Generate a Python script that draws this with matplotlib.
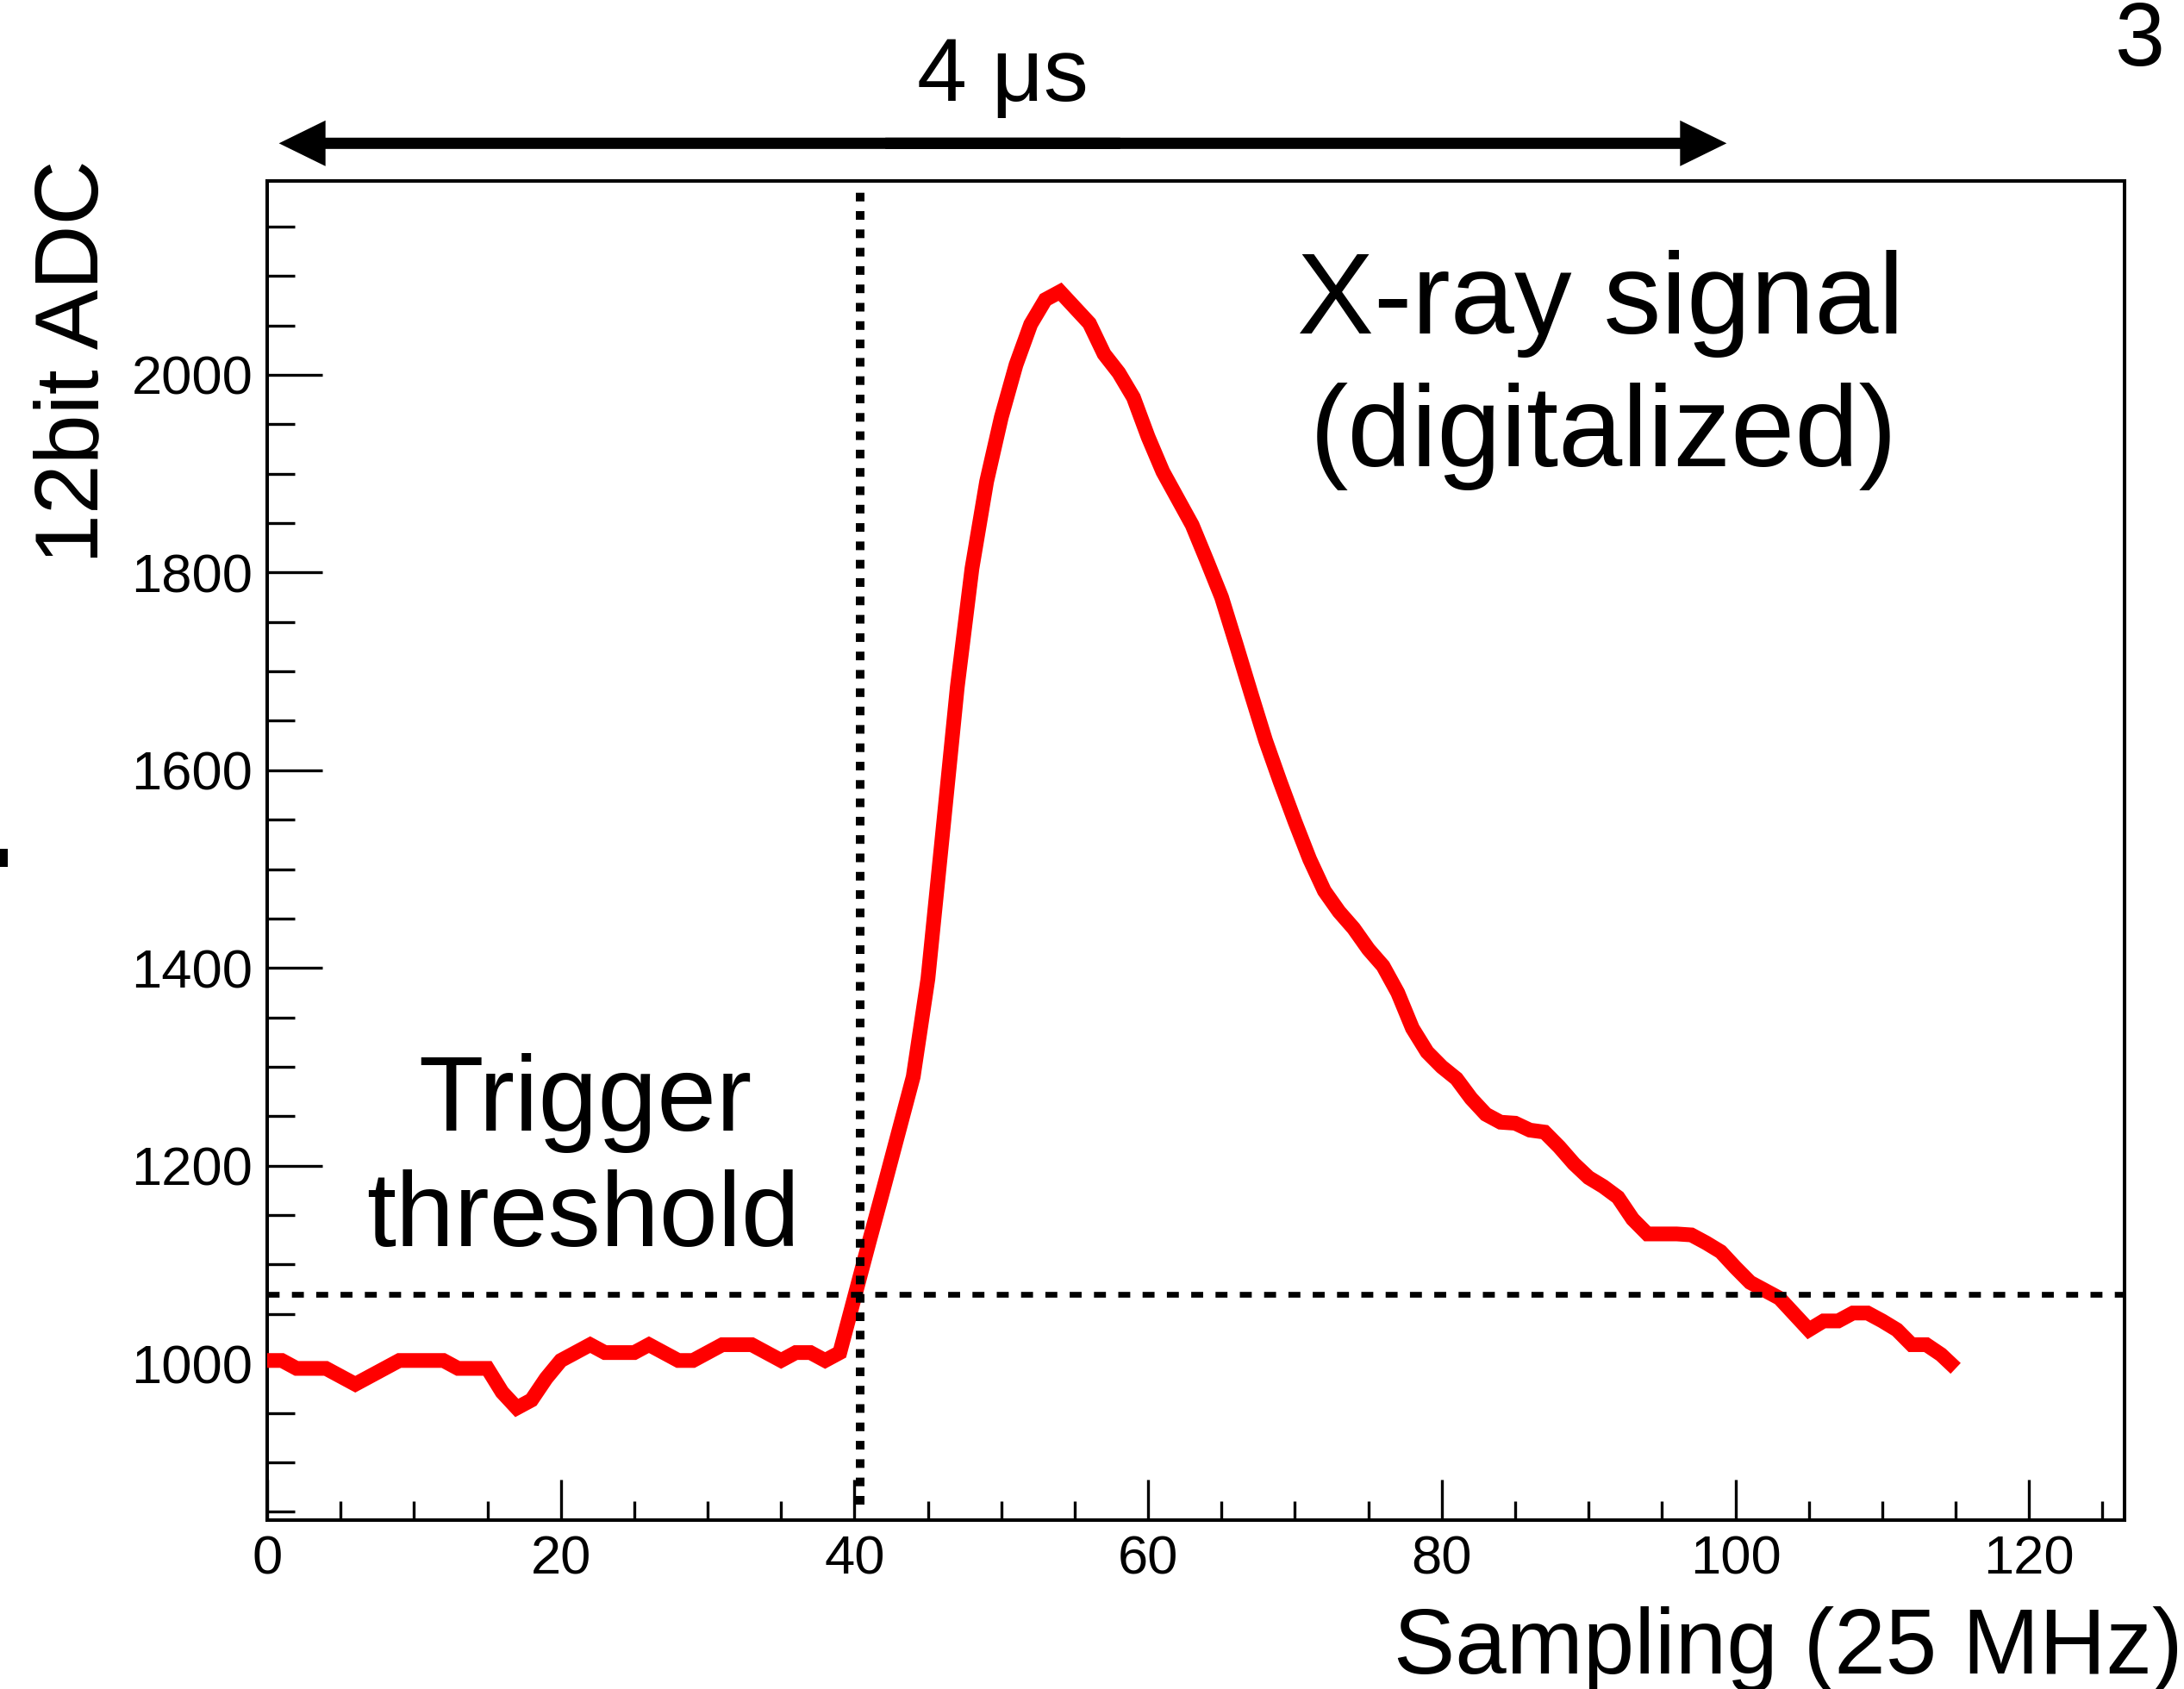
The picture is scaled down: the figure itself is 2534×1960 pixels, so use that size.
import matplotlib
matplotlib.use("Agg")
import matplotlib.pyplot as plt
from matplotlib.patches import Rectangle
import numpy as np

# ---------------- data ----------------
samples = list(range(0, 116))
adc_values = [
    1003, 1003, 995, 995, 995, 987, 979, 987, 995, 1003,      # 0-9
    1003, 1003, 1003, 995, 995, 995, 971, 955, 963, 985,      # 10-19
    1003, 1011, 1019, 1011, 1011, 1011, 1019, 1011, 1003, 1003,  # 20-29
    1011, 1019, 1019, 1019, 1011, 1003, 1011, 1011, 1003, 1011,  # 30-39
    1067, 1123, 1178, 1234, 1290, 1389, 1536, 1684, 1804, 1892,  # 40-49
    1957, 2010, 2051, 2076, 2084, 2068, 2052, 2021, 2002, 1977,  # 50-59
    1937, 1902, 1875, 1848, 1812, 1775, 1727, 1678, 1630, 1588,  # 60-69
    1548, 1510, 1478, 1457, 1440, 1419, 1402, 1375, 1339, 1315,  # 70-79
    1300, 1288, 1268, 1252, 1244, 1243, 1236, 1234, 1219, 1202,  # 80-89
    1188, 1179, 1168, 1146, 1131, 1131, 1131, 1130, 1122, 1113,  # 90-99
    1097, 1082, 1074, 1066, 1050, 1034, 1043, 1043, 1051, 1051,  # 100-109
    1043, 1034, 1019, 1019, 1009, 995,                           # 110-115
]
trigger_threshold = 1070
trigger_sample = 40.4
window_start, window_end = 0.8, 99.4   # the "4 us" window
x_major = [0, 20, 40, 60, 80, 100, 120]
y_major = [1000, 1200, 1400, 1600, 1800, 2000]

# ---------------- figure ----------------
W, H = 2534, 1960
DPI = 100
plt.rcParams['font.family'] = ['Liberation Sans', 'DejaVu Sans']
fig = plt.figure(figsize=(W / DPI, H / DPI), dpi=DPI)

def px(x, y):
    return x / W, 1 - y / H

L, R, T, B = 310, 2465, 210, 1763.5
ax = fig.add_axes([L / W, 1 - B / H, (R - L) / W, (B - T) / H])
ax.set_xlim(0, 126.5)
ax.set_ylim(842, 2196)

for s in ax.spines.values():
    s.set_linewidth(2.9)

ax.set_xticks(x_major)
ax.set_xticks(np.arange(5, 126, 5), minor=True)
ax.set_yticks(y_major)
ax.set_yticks(np.arange(850, 2196, 50), minor=True)
ax.set_xticklabels([str(v) for v in x_major])
ax.set_yticklabels([str(v) for v in y_major])
ax.tick_params(axis='both', which='both', direction='in', top=False, right=False,
               width=2.4, labelsize=45.5)
ax.tick_params(axis='x', which='major', length=34, pad=12)
ax.tick_params(axis='x', which='minor', length=16)
ax.tick_params(axis='y', which='major', length=46, pad=12)
ax.tick_params(axis='y', which='minor', length=23)

# signal
ax.plot(samples, adc_values, color='#ff0000', lw=12.3,
        solid_joinstyle='miter', solid_capstyle='butt', zorder=3)

# threshold line (dashed) and trigger line (dotted)
ax.axhline(trigger_threshold, color='black', lw=4.8,
           linestyle=(0, (2.08, 2.15)), zorder=4)
ax.plot([trigger_sample, trigger_sample], [857, 2190], color='black', lw=7.2,
        linestyle=(0, (1.0, 1.13)), zorder=4)

# double arrow above the frame (two overlapping halves)
y_arrow = 2000 + (435 - 166.5) / 1.147
mid = 0.5 * (window_start + window_end)
for end, start in ((window_start, mid + 8), (window_end, mid - 8)):
    ax.annotate('', xy=(end, y_arrow), xytext=(start, y_arrow), xycoords='data',
                annotation_clip=False,
                arrowprops=dict(arrowstyle='simple,head_length=38.9,head_width=38.2,tail_width=9.4',
                                mutation_scale=1, lw=0, color='black',
                                shrinkA=0, shrinkB=0))

# texts
fig.text(*px(1163, 117), '4 μs', fontsize=75, ha='center', va='baseline')
fig.text(*px(2512, 76), '3', fontsize=75, ha='right', va='baseline')
fig.text(*px(113, 420), '12bit ADC', fontsize=75, rotation=90, rotation_mode='anchor',
         ha='center', va='baseline')
fig.text(*px(2533, 1942), 'Sampling (25 MHz)', fontsize=77, ha='right', va='baseline')
fig.text(*px(1857, 387), 'X-ray signal', fontsize=96, ha='center', va='baseline')
fig.text(*px(1861, 541), '(digitalized)', fontsize=96, ha='center', va='baseline')
fig.text(*px(679, 1312), 'Trigger', fontsize=89, ha='center', va='baseline')
fig.text(*px(677, 1446), 'threshold', fontsize=88, ha='center', va='baseline')

# small cut-off mark at the left edge
fig.add_artist(Rectangle(px(0, 1006), 9 / W, 21 / H, transform=fig.transFigure,
                         color='black', lw=0))

fig.savefig('out.png', dpi=DPI)
